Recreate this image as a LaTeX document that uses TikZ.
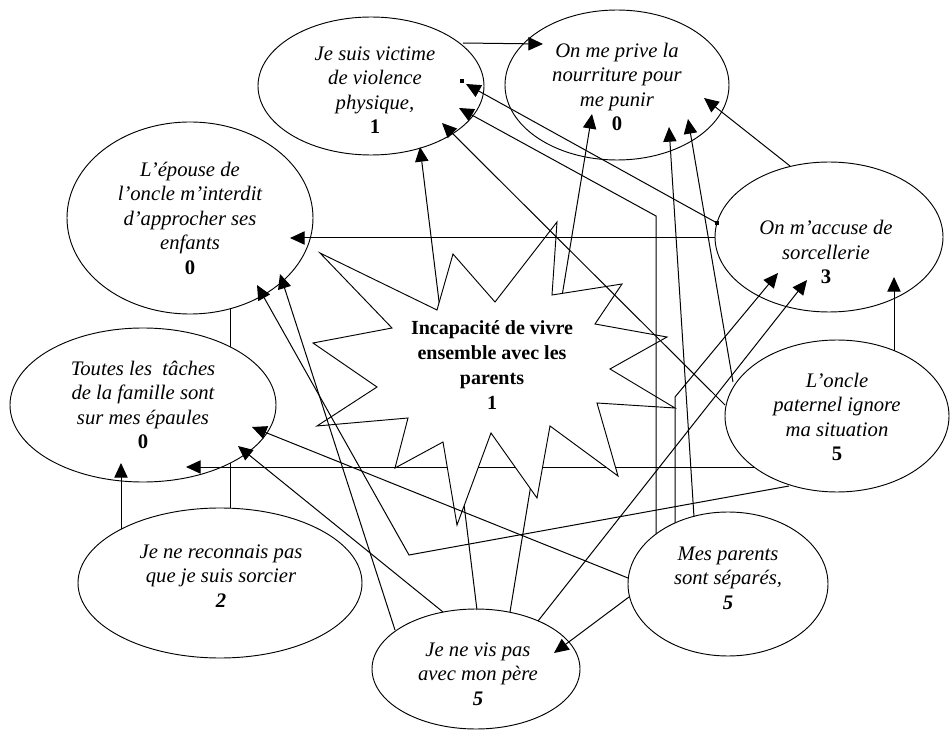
\documentclass[tikz,border=0pt]{standalone}
\usepackage{fontspec}
\setmainfont{Liberation Serif}
\usetikzlibrary{arrows.meta,calc,shapes.geometric}
\pgfdeclarelayer{back}
\pgfsetlayers{back,main}
\begin{document}
\begin{tikzpicture}[x=0.75pt,y=-0.75pt,
  ell/.style={draw,ellipse,fill=white,line width=0.7pt,inner sep=0pt},
  lab/.style={align=center,inner sep=0pt,font=\fontsize{15.5}{18.4}\selectfont\itshape},
  starlab/.style={align=center,inner sep=0pt,font=\fontsize{15}{18.75}\selectfont\bfseries},
  con/.style={line width=0.75pt,-{Triangle[length=11pt,width=10pt]}},
  sq/.style={fill=black}]
\begin{pgfonlayer}{back}
\fill[white] (0,0) rectangle (951,731);
\end{pgfonlayer}
\useasboundingbox (0,0) rectangle (951,731);

% ellipses
\node[ell,minimum width=169.5pt,minimum height=103.5pt] (vic) at (371,86) {};
\node[ell,minimum width=168pt,minimum height=112.5pt] (prive) at (617,85) {};
\node[ell,minimum width=184.5pt,minimum height=144pt] (epouse) at (190,218) {};
\node[ell,minimum width=171pt,minimum height=112.5pt] (accuse) at (829,237) {};
\node[ell,minimum width=199.5pt,minimum height=115.5pt] (toutes) at (143,405) {};
\node[ell,minimum width=168pt,minimum height=114pt] (oncle) at (837,416) {};
\node[ell,minimum width=150pt,minimum height=108pt] (parents) at (728,584) {};
\node[ell,minimum width=156pt,minimum height=90pt] (pere) at (476,669) {};
\node[ell,minimum width=213pt,minimum height=112.5pt] (sorcier) at (220,583) {};

% connector hidden behind "Toutes"
\begin{pgfonlayer}{back}
\draw[con] ($(sorcier)+(10,-75)$) -- ($(epouse)+(40,72)$);
\end{pgfonlayer}

% connectors passing behind the star
\draw[con] ($(pere)+(1,-59)$) -- ($(vic)+(49,61)$);
\draw[con] ($(pere)+(34,-57)$) -- ($(prive)+(-25,29)$);
\draw[con] ($(oncle)+(-83,51)$) -- ($(toutes)+(43,62)$);

% star
\draw[fill=white,line width=0.7pt] (557,222) -- (552,295) -- (622,284) -- (595,324) -- (667,337) -- (610,369) -- (675,408) -- (597,403) -- (618,476) -- (550,426) -- (537,498) -- (491,433) -- (457,525) -- (443,442) -- (395,468) -- (408,418) -- (317,426) -- (377,387) -- (313,343) -- (392,328) -- (320,253) -- (437,310) -- (453,254) -- (495,302) -- cycle;

% other connectors
\draw[con] ($(vic)+(92,-43)$) -- ($(prive)+(-74,-41)$);
\draw[con] ($(accuse)+(-112,-14)$) -- ($(vic)+(95,-2)$);
\fill[sq] ($(accuse)+(-114,-16)$) rectangle ++(4,4);
\fill[sq] ($(vic)+(89,-7)$) rectangle ++(4,4);
\draw[con] ($(parents)+(-72,-50)$) -- ++(0,-318) -- ($(vic)+(88,22)$);
\draw[con] ($(oncle)+(-112,-11)$) -- ($(vic)+(71,37)$);
\draw[con] ($(parents)+(-34,-67)$) -- ($(prive)+(52,42)$);
\draw[con] ($(oncle)+(-104,-34)$) -- ($(prive)+(71,34)$);
\draw[con] ($(accuse)+(-39,-71)$) -- ($(prive)+(87,13)$);
\draw[con] ($(accuse)+(-114,1)$) -- ($(epouse)+(100,20)$);
\draw[con] ($(pere)+(-81,-39)$) -- ($(epouse)+(90,56)$);
\draw[con] ($(oncle)+(-48,70)$) -- (409,555) -- ($(epouse)+(67,67)$);
\draw[con] ($(sorcier)+(-99,-54)$) -- ($(toutes)+(-22,58)$);
\draw[con] ($(parents)+(-100,-6)$) -- ($(toutes)+(109,22)$);
\draw[con] ($(pere)+(-33,-57)$) -- ($(toutes)+(95,41)$);
\draw[con] ($(parents)+(-53,-61)$) -- ++(0,-126) -- ($(accuse)+(-51,36)$);
\draw[con] ($(pere)+(62,-48)$) -- ($(accuse)+(-22,43)$);
\draw[con] ($(oncle)+(57,-65)$) -- ($(accuse)+(65,40)$);
\draw[con] ($(parents)+(-99,13)$) -- ($(pere)+(78,-16)$);

% texts
\node[lab] (tvic) at (375,90) {Je suis victime\\de violence\\physique,\\\textbf{\upshape 1}};
\node[lab] (tprive) at (617,87) {On me prive la\\nourriture pour\\me punir\\\textbf{\upshape 0}};
\node[lab] (tepouse) at (190,218) {L’épouse de\\l’oncle m’interdit\\d’approcher ses\\enfants\\\textbf{\upshape 0}};
\node[lab] (taccuse) at (826,252) {On m’accuse de\\sorcellerie\\\textbf{\upshape 3}};
\node[lab] (ttoutes) at (143,405) {Toutes les~ tâches\\de la famille sont\\sur mes épaules\\\textbf{\upshape 0}};
\node[lab] (toncle) at (837,417) {L’oncle\\paternel ignore\\ma situation\\\textbf{\upshape 5}};
\node[lab] (tparents) at (728,578) {Mes parents\\sont séparés,\\\textbf{5}};
\node[lab] (tpere) at (478,674) {Je ne vis pas\\avec mon père\\\textbf{5}};
\node[lab] (tsorcier) at (221,576) {Je ne reconnais pas\\que je suis sorcier\\\textbf{2}};
\node[starlab] (star) at (492,365) {Incapacité de vivre\\ensemble avec les\\parents\\1};
\end{tikzpicture}
\end{document}
